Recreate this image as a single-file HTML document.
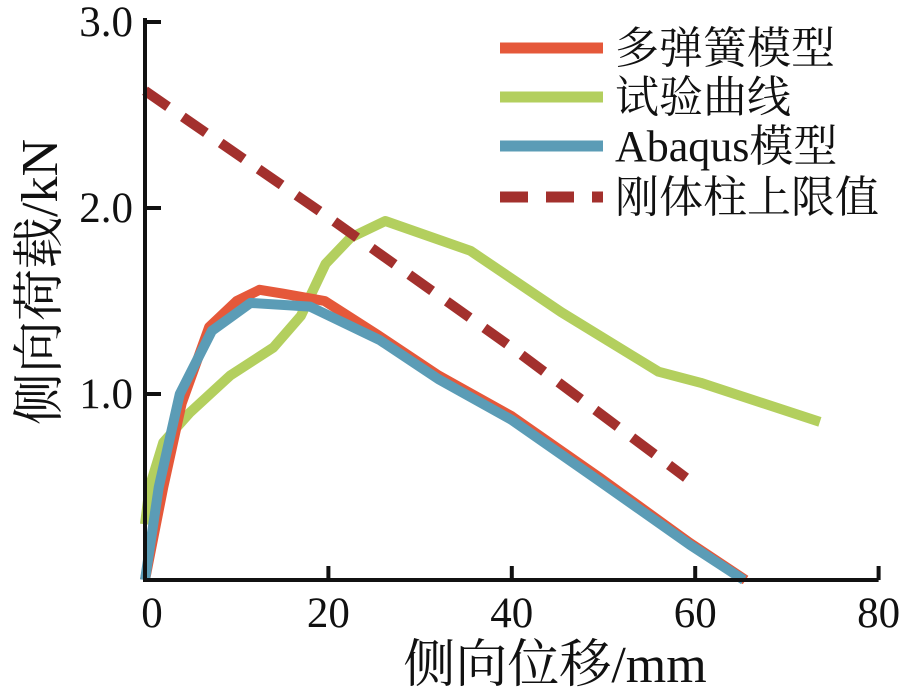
<!DOCTYPE html>
<html><head><meta charset="utf-8"><style>
html,body{margin:0;padding:0;background:#fff;}
svg{display:block;font-family:"Liberation Serif","Noto Serif CJK SC",serif;}
</style></head><body>
<svg width="921" height="697" id="c">
<g id="plot"></g>
</svg>
<script>
const xTicks=[0,20,40,60,80];
const yTicks=[1.0,2.0,3.0];
const seriesNames=["多弹簧模型","试验曲线","Abaqus模型","刚体柱上限值"];
const redX=[0,2,4,7,10,12.5,15,19.6,25.6,32,40,49.6,59.4,65.5];
const redY=[0,0.5,0.95,1.36,1.5,1.56,1.54,1.5,1.31,1.1,0.88,0.55,0.2,0];
const greenX=[0,0.5,2,4.9,9.3,14,17,19.7,22.4,26.2,35.5,45.4,56,60.6,73.6];
const greenY=[0.3,0.5,0.74,0.9,1.1,1.25,1.42,1.7,1.84,1.93,1.77,1.44,1.12,1.06,0.85];
const blueX=[0,1.5,3.8,7.3,11.5,18,25.6,32,40,49.6,59.4,65.3];
const blueY=[0,0.5,1.0,1.34,1.49,1.47,1.29,1.08,0.86,0.53,0.19,0];
const dashX=[0,20,40,59];
const dashY=[2.63,1.95,1.25,0.55];
const NS="http://www.w3.org/2000/svg";
const X0=145,XS=9.17,Y0=580,YS=186;
const sx=v=>X0+v*XS, sy=v=>Y0-v*YS;
const g=document.getElementById('plot');
function mk(t,a,txt){const e=document.createElementNS(NS,t);for(const k in a)e.setAttribute(k,a[k]);if(txt!==undefined)e.textContent=txt;g.appendChild(e);return e;}
function line(xs,ys,col,w,dash,name){
  const d=xs.map((x,i)=>(i?'L':'M')+sx(x).toFixed(1)+' '+sy(ys[i]).toFixed(1)).join(' ');
  const a={d:d,fill:'none',stroke:col,'stroke-width':w,'stroke-linejoin':'round'};
  if(dash)a['stroke-dasharray']=dash;
  const p=mk('path',a);
  
  
}
line(greenX,greenY,'#b3cf5e',10,null,'series-test-curve');
line(redX,redY,'#e5583a',10,null,'series-multi-spring');
line(blueX,blueY,'#5b9cb6',10,null,'series-abaqus');
line(dashX,dashY,'#a3302d',10,'28,18','series-rigid-limit');
let ax=mk('path',{d:`M${X0} 18 L${X0} ${Y0} L${sx(80)} ${Y0}`,fill:'none',stroke:'#111','stroke-width':4});


xTicks.forEach(v=>{
  if(v>0){const t=mk('line',{x1:sx(v),x2:sx(v),y1:Y0,y2:Y0-14,stroke:'#111','stroke-width':4});
  
  }
  const l=mk('text',{x:sx(v)+(v==0?7:0),y:627,'font-size':43,'text-anchor':'middle',fill:'#111'},String(v));
  
  
});
yTicks.forEach(v=>{
  const t=mk('line',{x1:X0,x2:X0+16,y1:sy(v),y2:sy(v),stroke:'#111','stroke-width':4});
  
  
  const l=mk('text',{x:133,y:sy(v)+14,'font-size':43,'text-anchor':'end',fill:'#111'},v.toFixed(1));
  
  
});
let xt=mk('text',{x:555,y:682,'font-size':52,'text-anchor':'middle',fill:'#111'},'侧向位移/mm');


let yt=mk('text',{x:0,y:0,'font-size':52,'text-anchor':'middle',fill:'#111',transform:'translate(57,282) rotate(-90)'},'侧向荷载/kN');


const lcol=['#e5583a','#b3cf5e','#5b9cb6','#a3302d'];
const ly=[48,97,146,197];
seriesNames.forEach((n,i)=>{
  const a={x1:500,x2:603,y1:ly[i],y2:ly[i],stroke:lcol[i],'stroke-width':11};
  if(i==3)a['stroke-dasharray']='28,18';
  const s=mk('line',a);
  
  
  const t=mk('text',{x:615,y:ly[i]+15,'font-size':44,fill:'#111'},n);
  
  
});
</script>
</body></html>
